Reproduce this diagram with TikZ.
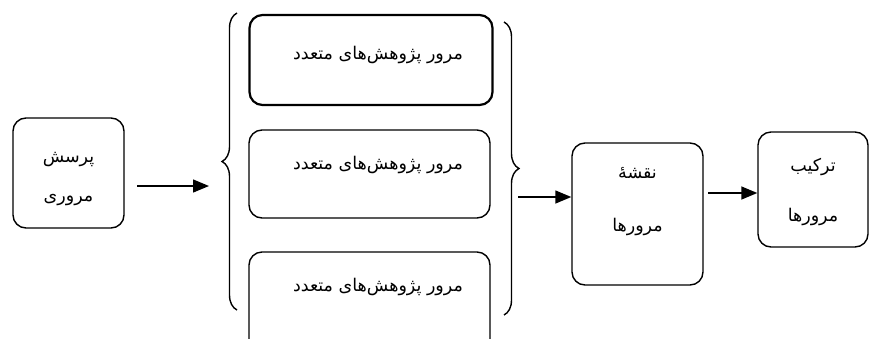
\documentclass[tikz,border=0pt]{standalone}
\usepackage{fontspec}
\TeXXeTstate=1
\newfontfamily\arabicfont[Script=Arabic]{DejaVu Sans}
\usetikzlibrary{arrows.meta,decorations.pathreplacing}
\newcommand{\fa}[1]{\arabicfont\beginR #1\endR}
\begin{document}
\begin{tikzpicture}[x=1pt,y=-1pt,
  box/.style={draw,rounded corners=13pt,line width=1.4pt,inner sep=0pt},
  lbl/.style={font=\fontsize{17.5}{20}\arabicfont,inner sep=0pt},
  arr/.style={line width=1.4pt,-{Triangle[length=16pt,width=13pt]}},
  brc/.style={line width=1.4pt,decorate,decoration={brace,amplitude=15pt,aspect=0.5}}]
\useasboundingbox (0,0) rectangle (869,338);
% left box
\node[box,minimum width=111pt,minimum height=110pt] (q) at (68.5,173) {};
\node[lbl] (q1) at (68.5,160) {\fa{پرسش}};
\node[lbl] (q2) at (68.5,200) {\fa{مروری}};
% three boxes
\node[box,line width=2.2pt,minimum width=243pt,minimum height=90pt] (r1) at (371,60) {};
\node[box,minimum width=241pt,minimum height=88pt] (r2) at (369.5,174) {};
\node[box,minimum width=241pt,minimum height=100pt] (r3) at (369.5,302) {};
\node[lbl] (t1) at (378,55) {\fa{مرور پژوهش‌های متعدد}};
\node[lbl] (t2) at (378,165) {\fa{مرور پژوهش‌های متعدد}};
\node[lbl] (t3) at (378,287) {\fa{مرور پژوهش‌های متعدد}};
% braces
\coordinate (lbB) at (237,310);
\coordinate (lbT) at (237,13);
\coordinate (rbT) at (504,22);
\coordinate (rbB) at (504,315);
\draw[brc] (lbB) -- (lbT);
\draw[brc] (rbT) -- (rbB);
% map box
\node[box,minimum width=131pt,minimum height=142pt] (m) at (637.5,214) {};
\node[lbl] (m1) at (637.5,173) {\fa{نقشهٔ}};
\node[lbl] (m2) at (637.5,227) {\fa{مرورها}};
% synthesis box
\node[box,minimum width=110pt,minimum height=115pt] (s) at (813,189.5) {};
\node[lbl] (s1) at (813,167) {\fa{ترکیب}};
\node[lbl] (s2) at (813,217) {\fa{مرورها}};
% arrows
\coordinate (a1s) at (137,186);
\coordinate (a1e) at (209,186);
\draw[arr] (a1s) -- (a1e);
\coordinate (a2s) at (518,197);
\draw[arr] (a2s) -- (a2s -| m.west);
\coordinate (a3s) at (708,193);
\draw[arr] (a3s) -- (a3s -| s.west);
\end{tikzpicture}
\end{document}
